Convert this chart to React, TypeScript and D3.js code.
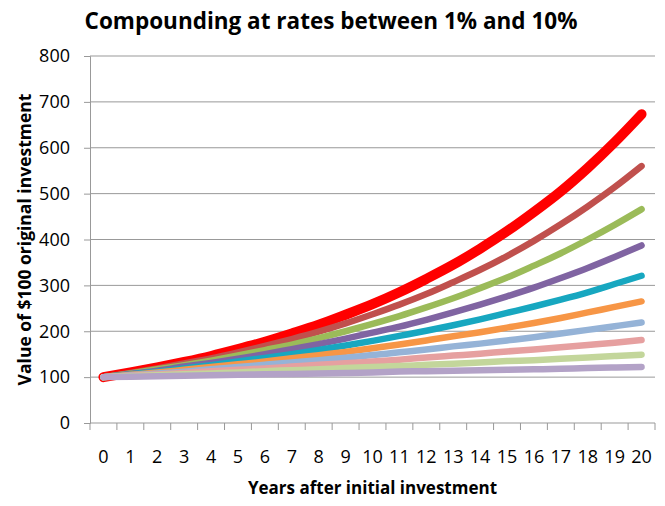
import React, { ReactElement, useEffect, useRef } from "react";
import * as d3 from "d3";

// years 0..20
const years: number[] = d3.range(0, 21);

// value of $100, one array per rate
const rate1 = [100, 101, 102, 103, 104, 105, 106, 107, 108, 109, 110, 112, 113, 114, 115, 116, 117, 118, 120, 121, 122];
const rate2 = [100, 102, 104, 106, 108, 110, 113, 115, 117, 120, 122, 124, 127, 129, 132, 135, 137, 140, 143, 146, 149];
const rate3 = [100, 103, 106, 109, 113, 116, 119, 123, 127, 130, 134, 138, 143, 147, 151, 156, 160, 165, 170, 175, 181];
const rate4 = [100, 104, 108, 112, 117, 122, 127, 132, 137, 142, 148, 154, 160, 167, 173, 180, 187, 195, 203, 211, 219];
const rate5 = [100, 105, 110, 116, 122, 128, 134, 141, 148, 155, 163, 171, 180, 189, 198, 208, 218, 229, 241, 253, 265];
const rate6 = [100, 106, 112, 119, 126, 134, 142, 150, 159, 169, 179, 190, 201, 213, 226, 240, 254, 269, 285, 303, 321];
const rate7 = [100, 107, 114, 123, 131, 140, 150, 161, 172, 184, 197, 210, 225, 241, 258, 276, 295, 316, 338, 362, 387];
const rate8 = [100, 108, 117, 126, 136, 147, 159, 171, 185, 200, 216, 233, 252, 272, 294, 317, 343, 370, 400, 432, 466];
const rate9 = [100, 109, 119, 130, 141, 154, 168, 183, 199, 217, 237, 258, 281, 307, 334, 364, 397, 433, 472, 514, 560];
const rate10 = [100, 110, 121, 133, 146, 161, 177, 195, 214, 236, 259, 285, 314, 345, 380, 418, 460, 505, 556, 612, 673];

const yTicks = [0, 100, 200, 300, 400, 500, 600, 700, 800];

// drawn from 10% first so 1% ends up on top
const series = [
  { values: rate10, color: "#ff0000", width: 10 },
  { values: rate9, color: "#c0504d", width: 6.5 },
  { values: rate8, color: "#9bbb59", width: 6.5 },
  { values: rate7, color: "#8064a2", width: 6.5 },
  { values: rate6, color: "#17a7c0", width: 6.5 },
  { values: rate5, color: "#f79646", width: 6.5 },
  { values: rate4, color: "#95b3d7", width: 6.5 },
  { values: rate3, color: "#e6a0a0", width: 6.5 },
  { values: rate2, color: "#c3d69b", width: 6.5 },
  { values: rate1, color: "#b3a2c7", width: 6.5 },
];

const FONT = "'Open Sans', sans-serif";

function App(): ReactElement {
  const ref = useRef<SVGSVGElement>(null);

  useEffect(() => {
    const svg = d3.select(ref.current);
    svg.selectAll("*").remove();

    const left = 90;
    const right = 655;
    const top = 56;
    const bottom = 423;

    const x = d3
      .scaleBand<number>()
      .domain(years)
      .range([left, right]);
    const y = d3.scaleLinear().domain([0, 800]).range([bottom, top]);

    // gridlines
    svg
      .append("g")
      .selectAll("line")
      .data(yTicks.filter((d) => d > 0))
      .enter()
      .append("line")
      .attr("x1", left)
      .attr("x2", right)
      .attr("y1", (d) => y(d))
      .attr("y2", (d) => y(d))
      .attr("stroke", "#999")
      .attr("stroke-width", 1);

    // y axis
    const yAxis = svg
      .append("g")
      .attr("transform", `translate(${left},0)`)
      .call(d3.axisLeft(y).tickValues(yTicks).tickSize(6).tickPadding(14));
    yAxis.select(".domain").attr("stroke", "#999");
    yAxis.selectAll(".tick line").attr("stroke", "#999");
    yAxis
      .selectAll(".tick text")
      .attr("fill", "#000")
      .style("font-family", FONT)
      .style("font-size", "18px");

    // x axis: ticks sit between categories
    const xg = svg.append("g");
    xg.append("line")
      .attr("x1", left)
      .attr("x2", right)
      .attr("y1", bottom)
      .attr("y2", bottom)
      .attr("stroke", "#999");
    const boundaries = years.map((d) => x(d) as number).concat([right]);
    xg.selectAll(".xt")
      .data(boundaries)
      .enter()
      .append("line")
      .attr("x1", (d) => d)
      .attr("x2", (d) => d)
      .attr("y1", bottom)
      .attr("y2", bottom + 7)
      .attr("stroke", "#999");
    xg.selectAll("text")
      .data(years)
      .enter()
      .append("text")
      .attr("x", (d) => (x(d) as number) + x.bandwidth() / 2)
      .attr("y", 463)
      .attr("text-anchor", "middle")
      .style("font-family", FONT)
      .style("font-size", "18px")
      .text((d) => d);

    // lines
    const line = d3
      .line<number>()
      .x((_, i) => (x(years[i]) as number) + x.bandwidth() / 2)
      .y((d) => y(d))
      .curve(d3.curveMonotoneX);

    svg
      .append("g")
      .selectAll("path")
      .data(series)
      .enter()
      .append("path")
      .attr("d", (s) => line(s.values))
      .attr("fill", "none")
      .attr("stroke", (s) => s.color)
      .attr("stroke-width", (s) => s.width)
      .attr("stroke-linecap", "round")
      .attr("stroke-linejoin", "round");

    // title and axis labels
    svg
      .append("text")
      .attr("x", 331)
      .attr("y", 29)
      .attr("text-anchor", "middle")
      .style("font-family", FONT)
      .style("font-weight", "bold")
      .style("font-size", "22.5px")
      .text("Compounding at rates between 1% and 10%");

    svg
      .append("text")
      .attr("x", (left + right) / 2)
      .attr("y", 494)
      .attr("text-anchor", "middle")
      .style("font-family", FONT)
      .style("font-weight", "bold")
      .style("font-size", "17px")
      .text("Years after initial investment");

    svg
      .append("text")
      .attr("transform", `translate(31,${(top + bottom) / 2}) rotate(-90)`)
      .attr("text-anchor", "middle")
      .style("font-family", FONT)
      .style("font-weight", "bold")
      .style("font-size", "17.5px")
      .text("Value of $100 original investment");
  });

  return (
    <div>
      <svg
        ref={ref}
        width={665}
        height={506}
        style={{ position: "absolute", left: 0, top: 0, background: "#fff" }}
      ></svg>
    </div>
  );
}

export default App;
